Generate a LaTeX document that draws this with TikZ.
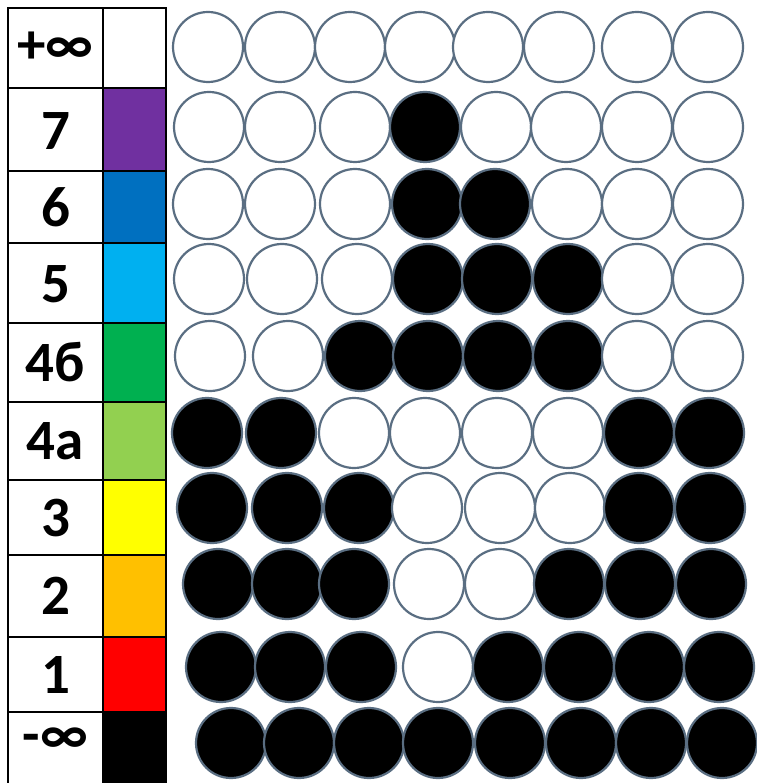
\documentclass[tikz,border=0pt]{standalone}
\usepackage{fontspec}
\setmainfont{Carlito}
\definecolor{ringcol}{HTML}{5A6E82}
\definecolor{cpurple}{HTML}{7030A0}
\definecolor{cblue}{HTML}{0070C0}
\definecolor{clblue}{HTML}{00B0F0}
\definecolor{cgreen}{HTML}{00B050}
\definecolor{clgreen}{HTML}{92D050}
\definecolor{cyellow}{HTML}{FFFF00}
\definecolor{corange}{HTML}{FFC000}
\definecolor{cred}{HTML}{FF0000}
\tikzset{
  whitedisc/.style={circle, inner sep=0pt, minimum size=70pt, draw=ringcol, line width=2.2pt, fill=white},
  blackdisc/.style={circle, inner sep=0pt, minimum size=70pt, draw=ringcol, line width=2.2pt, fill=black},
  swatch/.style={rectangle, inner sep=0pt, minimum width=63pt, anchor=north west},
  lab/.style={inner sep=0pt, font=\fontsize{57}{60}\selectfont\bfseries},
  gridline/.style={line width=1.3pt, black}
}
\newcommand\crow[3]{%
  \foreach \xx/\ff [count=\cc] in {#3}{\node[\ff disc] (c#1-\cc) at (\xx,#2) {};}%
}
\begin{document}
\begin{tikzpicture}[x=1pt,y=-1pt]
\useasboundingbox[fill=white] (0,0) rectangle (756,783);
% colour swatches
\foreach \ya/\yb/\col [count=\i] in {8/88/white,88/171/cpurple,171/243/cblue,243/323/clblue,323/402/cgreen,402/480/clgreen,480/555/cyellow,555/637/corange,637/712/cred,712/783/black}{
  \pgfmathsetmacro\hh{\yb-\ya}
  \node[swatch, fill=\col, minimum height=\hh pt] (s\i) at (103,\ya) {};
}
% grid lines
\draw[gridline] (8,783) -- (8,8) -- (166,8) -- (166,783);
\draw[gridline] (103,8) -- (103,783);
\foreach \yy in {88,171,243,323,402,480,555,637,712}{
  \draw[gridline] (8,\yy) -- (166,\yy);
}
% labels
\node[lab] (l1) at (55.5,48) {+∞};
\node[lab] (l2) at (55.5,131) {7};
\node[lab] (l3) at (55.5,207) {6};
\node[lab] (l4) at (55.5,284) {5};
\node[lab] (l5) at (55.5,362) {4б};
\node[lab] (l6) at (55.5,441) {4а};
\node[lab] (l7) at (55.5,518) {3};
\node[lab] (l8) at (55.5,596) {2};
\node[lab] (l9) at (55.5,675) {1};
\node[lab] (l10) at (55.5,741) {-∞};
% discs
\crow{1}{47}{208/white,280/white,350/white,420/white,488/white,559/white,637/white,708/white}
\crow{2}{127}{209/white,280/white,355/white,425/black,496/white,566/white,637/white,708/white}
\crow{3}{204}{208/white,280/white,355/white,427/black,495/black,567/white,637/white,708/white}
\crow{4}{279}{209/white,282/white,357/white,428/black,497/black,568/black,637/white,708/white}
\crow{5}{356}{210/white,288/white,360/black,428/black,498/black,568/black,637/white,708/white}
\crow{6}{433}{207/black,281/black,354/white,425/white,497/white,568/white,639/black,709/black}
\crow{7}{508}{212/black,287/black,359/black,427/white,500/white,570/white,639/black,710/black}
\crow{8}{584}{218/black,287/black,354/black,429/white,500/white,569/black,640/black,711/black}
\crow{9}{667}{221/black,290/black,361/black,438/white,508/black,579/black,649/black,719/black}
\crow{10}{743}{231/black,299/black,369/black,438/black,510/black,581/black,651/black,722/black}
\end{tikzpicture}
\end{document}
